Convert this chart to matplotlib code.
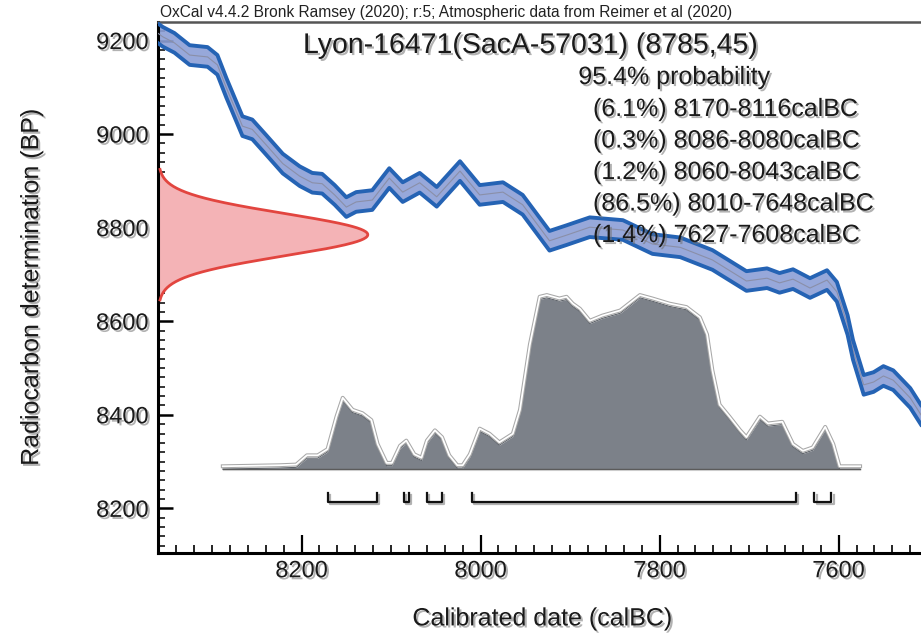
import matplotlib
matplotlib.use('Agg')
import matplotlib.pyplot as plt
import matplotlib.patheffects as pe
import numpy as np

plt.rcParams['font.family'] = ['Liberation Sans', 'DejaVu Sans']

# Calibration curve (IntCal20 segment): calendar year BC, radiocarbon BP
cal_years = [8360, 8355, 8342, 8325, 8305, 8294, 8284, 8266, 8255, 8240, 8221, 8202,
             8188, 8177, 8163, 8150, 8139, 8121, 8102, 8087, 8068, 8049, 8023, 8001,
             7975, 7953, 7923, 7904, 7878, 7841, 7808, 7777, 7741, 7703, 7680, 7666,
             7651, 7632, 7613, 7602, 7590, 7584, 7572, 7561, 7550, 7539, 7520, 7508]
cal_bp = [9215, 9208, 9195, 9169, 9165, 9148, 9099, 9017, 9010, 8978, 8937, 8910,
          8896, 8894, 8870, 8844, 8855, 8859, 8906, 8876, 8896, 8866, 8921, 8870,
          8876, 8849, 8772, 8784, 8801, 8795, 8765, 8758, 8731, 8686, 8692, 8682,
          8690, 8671, 8688, 8663, 8592, 8539, 8464, 8470, 8483, 8474, 8436, 8400]
cal_sigma = 21

# Measurement
sample_name = 'Lyon-16471(SacA-57031)'
c14_age = 8785
c14_err = 45

# Calibrated probability distribution (relative)
post_years = [8288, 8225, 8206, 8194, 8182, 8171, 8161, 8154, 8143, 8132, 8122, 8115,
              8105, 8099, 8090, 8083, 8074, 8066, 8060, 8051, 8043, 8035, 8026, 8020,
              8012, 8001, 7990, 7979, 7964, 7956, 7945, 7934, 7926, 7919, 7912, 7904,
              7897, 7889, 7878, 7864, 7844, 7822, 7808, 7789, 7770, 7755, 7747, 7741,
              7733, 7722, 7710, 7703, 7688, 7679, 7663, 7651, 7640, 7629, 7615, 7606,
              7599, 7576]
post_prob = [0.0, 0.006, 0.01, 0.064, 0.064, 0.10, 0.29, 0.40, 0.33, 0.31, 0.27, 0.13,
             0.02, 0.02, 0.12, 0.15, 0.07, 0.05, 0.15, 0.21, 0.17, 0.064, 0.006, 0.006,
             0.07, 0.22, 0.19, 0.14, 0.19, 0.33, 0.71, 0.99, 1.0, 0.99, 0.98, 0.99,
             0.95, 0.92, 0.85, 0.88, 0.91, 1.0, 0.98, 0.95, 0.93, 0.87, 0.77, 0.56,
             0.36, 0.29, 0.21, 0.17, 0.29, 0.25, 0.26, 0.13, 0.09, 0.11, 0.23, 0.13,
             0.0, 0.0]

# 95.4% ranges
range_pct = [6.1, 0.3, 1.2, 86.5, 1.4]
range_from = [8170, 8086, 8060, 8010, 7627]
range_to = [8116, 8080, 8043, 7648, 7608]

shadow = [pe.withSimplePatchShadow(offset=(1.5, -1.5), shadow_rgbFace='0.45', alpha=0.55)]

fig = plt.figure(figsize=(9.21, 6.42), dpi=100)
ax = fig.add_axes([0.1719, 0.1382, 0.8281, 0.8278])
ax.set_xlim(8360, 7508)
ax.set_ylim(8104, 9240)

# calibration curve band
cy = np.array(cal_years)
cb = np.array(cal_bp)
ax.fill_between(cy, cb - cal_sigma, cb + cal_sigma, color='#8c9fd6', alpha=0.9, lw=0, zorder=2)
ax.plot(cy, cb, color='#8a8fa8', lw=0.8, zorder=3)
for edge in (cb + cal_sigma, cb - cal_sigma):
    ax.plot(cy, edge, color='#2563b4', lw=2.8, solid_joinstyle='round', zorder=4)

# radiocarbon measurement on the y axis
bp = np.linspace(c14_age - 3.1 * c14_err, c14_age + 3.1 * c14_err, 200)
dens = np.exp(-0.5 * ((bp - c14_age) / c14_err) ** 2)
x0 = 8360
amp = 234
ax.fill_betweenx(bp, x0, x0 - amp * dens, color='#f4b3b6', lw=0, zorder=2)
ax.plot(x0 - amp * dens, bp, color='#e2453f', lw=2, zorder=3)

# calibrated distribution
base = 8284
height = 366
py = np.array(post_years)
top = base + height * np.array(post_prob)
ax.fill_between(py, base, top, color='#7c8189', lw=0, zorder=2)
ax.plot(py, top, color='#5e636a', lw=0.8, zorder=3)
ax.plot(py, top + 6, color='#a8a8a8', lw=2.8, zorder=3)
ax.plot(py, top + 6, color='white', lw=1.3, zorder=3)
ax.plot([py[0], py[-1]], [base, base], color='#555555', lw=1.0, zorder=3)
ax.plot([py[0], py[-1]], [base - 3, base - 3], color='#cccccc', lw=0.8, zorder=3)

# range brackets
br_base, br_top = 8213, 8232
for a, b in zip(range_from, range_to):
    ax.plot([a, a, b, b], [br_top, br_base, br_base, br_top], color='#111111', lw=1.6,
            zorder=4, path_effects=[pe.SimpleLineShadow(offset=(1.5, -1.5), shadow_color='0.5', alpha=0.6), pe.Normal()])

# axes styling
for side in ('left', 'bottom'):
    ax.spines[side].set_linewidth(2.2)
    ax.spines[side].set_color('black')
ax.spines['right'].set_visible(False)
ax.spines['top'].set_linewidth(1.8)
ax.spines['top'].set_color('#555555')

ax.set_xticks([8200, 8000, 7800, 7600])
ax.set_xticks(np.arange(8360, 7500, -20), minor=True)
ax.set_yticks([8200, 8400, 8600, 8800, 9000, 9200])
ax.set_yticks(np.arange(8120, 9240, 20), minor=True)
ax.tick_params(axis='x', which='major', direction='in', length=13, width=1.6, labelsize=17, pad=5)
ax.tick_params(axis='x', which='minor', direction='in', length=6, width=1.2)
ax.tick_params(axis='y', which='major', direction='in', length=11, width=1.8, labelsize=17, pad=7)
ax.tick_params(axis='y', which='minor', direction='in', length=5, width=1.1)
for lbl in ax.get_xticklabels() + ax.get_yticklabels():
    lbl.set_path_effects(shadow)
    lbl.set_color('#1a1a1a')

ax.set_xlabel('Calibrated date (calBC)', fontsize=18, color='#1a1a1a', path_effects=shadow)
ax.xaxis.set_label_coords(0.503, -0.1)
ax.set_ylabel('Radiocarbon determination (BP)', fontsize=18, color='#1a1a1a', path_effects=shadow)
ax.yaxis.set_label_coords(-0.151, 0.5)

# header and result text
W, H = 921.0, 642.0
fig.text(160 / W, 1 - 20 / H, 'OxCal v4.4.2 Bronk Ramsey (2020); r:5; Atmospheric data from Reimer et al (2020)',
         fontsize=11.2, ha='left', va='bottom', color='#222222')
fig.text(303 / W, 1 - 46 / H, f'{sample_name} ({c14_age},{c14_err})', fontsize=20.5,
         ha='left', va='center', color='#1a1a1a', path_effects=shadow)
fig.text(674 / W, 1 - 77 / H, '95.4% probability', fontsize=18, ha='center', va='center',
         color='#1a1a1a', path_effects=shadow)
for i, (p, a, b) in enumerate(zip(range_pct, range_from, range_to)):
    fig.text(593 / W, 1 - (109 + 31.5 * i) / H, f'({p}%) {a}-{b}calBC', fontsize=18,
             ha='left', va='center', color='#1a1a1a', path_effects=shadow)

fig.savefig('out.png', dpi=100)
